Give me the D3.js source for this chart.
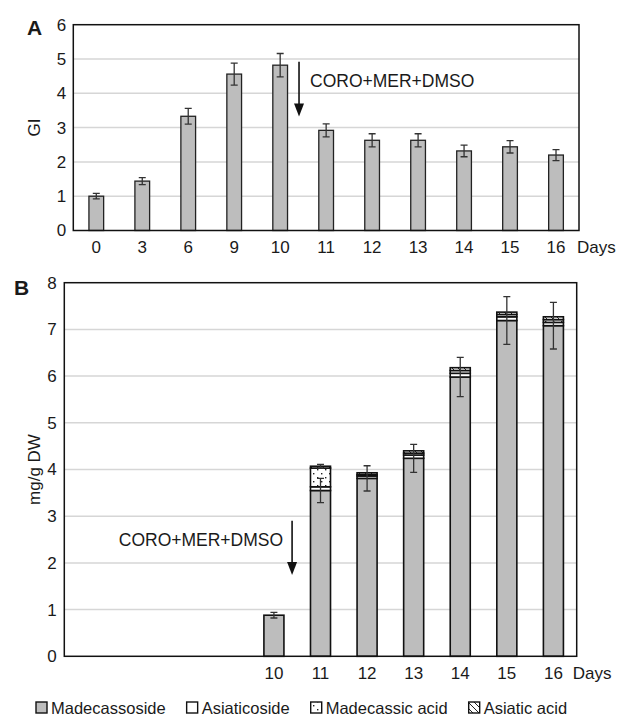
<!DOCTYPE html>
<html>
<head>
<meta charset="utf-8">
<script src="https://cdn.jsdelivr.net/npm/d3@7"></script>
<style>
  body { margin: 0; background: #fff; }
  text { font-family: "Liberation Sans", Arial, Helvetica, sans-serif; fill: #1a1a1a; }
</style>
</head>
<body>
<svg id="chart" width="620" height="716"></svg>
<script>
// Panel A: growth index per day
const days = ["0", "3", "6", "9", "10", "11", "12", "13", "14", "15", "16"];
const giValues = [1.0, 1.44, 3.33, 4.56, 4.82, 2.92, 2.63, 2.63, 2.32, 2.44, 2.2];
const giErrors = [0.08, 0.1, 0.23, 0.32, 0.34, 0.19, 0.19, 0.19, 0.17, 0.18, 0.16];
const giTicks = [0, 1, 2, 3, 4, 5, 6];

// Panel B: triterpenes (mg/g DW), stacked
const daysB = ["10", "11", "12", "13", "14", "15", "16"];
const madecassoside = [0.88, 3.55, 3.81, 4.24, 5.98, 7.19, 7.08];
const madecassosideErr = [0.06, 0.26, 0.27, 0.3, 0.42, 0.51, 0.5];
const asiaticoside = [0, 0.08, 0.05, 0.07, 0.08, 0.08, 0.07];
const madecassicAcid = [0, 0.4, 0.03, 0.04, 0.06, 0.05, 0.06];
const asiaticAcid = [0, 0.04, 0.04, 0.05, 0.06, 0.05, 0.06];
const totalErr = [0, 0.04, 0, 0, 0, 0, 0];
const mgTicks = [0, 1, 2, 3, 4, 5, 6, 7, 8];

const seriesNames = ["Madecassoside", "Asiaticoside", "Madecassic acid", "Asiatic acid"];
const treatmentLabel = "CORO+MER+DMSO";

const svg = d3.select('#chart');
const defs = svg.append('defs');

// fills for the four compounds
const dots = defs.append('pattern').attr('id', 'dots')
  .attr('patternUnits', 'userSpaceOnUse').attr('width', 8).attr('height', 8);
dots.append('rect').attr('width', 8).attr('height', 8).attr('fill', '#fff');
dots.append('rect').attr('x', 1).attr('y', 1).attr('width', 1.4).attr('height', 1.4).attr('fill', '#222');
dots.append('rect').attr('x', 5).attr('y', 5).attr('width', 1.4).attr('height', 1.4).attr('fill', '#222');

const hatch = defs.append('pattern').attr('id', 'hatch')
  .attr('patternUnits', 'userSpaceOnUse').attr('width', 6).attr('height', 6);
hatch.append('rect').attr('width', 6).attr('height', 6).attr('fill', '#fff');
hatch.append('path').attr('d', 'M0,0L6,6M-1,5L1,7M5,-1L7,1')
  .attr('stroke', '#222').attr('stroke-width', 1);

const fills = ['#bdbdbd', '#ffffff', 'url(#dots)', 'url(#hatch)'];

function errorBar(g, x, yLo, yHi) {
  const cap = 3.5;
  g.append('path')
    .attr('d', `M${x},${yLo}V${yHi}M${x - cap},${yLo}H${x + cap}M${x - cap},${yHi}H${x + cap}`)
    .attr('stroke', '#333').attr('stroke-width', 1.3).attr('fill', 'none');
}

function drawFrame(g, y, ticks, left, right, tickPadding) {
  // gridlines
  g.append('g').selectAll('line')
    .data(ticks.slice(1, -1))
    .join('line')
    .attr('x1', left).attr('x2', right)
    .attr('y1', (d) => y(d)).attr('y2', (d) => y(d))
    .attr('stroke', '#d6d6d6').attr('stroke-width', 1.5);

  const yaxis = d3.axisLeft(y).tickValues(ticks).tickFormat(d3.format('d'))
    .tickSize(0).tickPadding(tickPadding);
  const gy = g.append('g').attr('transform', `translate(${left},0)`).call(yaxis);
  gy.select('.domain').remove();
  gy.selectAll('text').style('font-size', '17px').attr('fill', '#1a1a1a');
}

function drawBox(g, left, right, top, bottom) {
  g.append('rect')
    .attr('x', left).attr('y', top)
    .attr('width', right - left).attr('height', bottom - top)
    .attr('fill', 'none').attr('stroke', '#111').attr('stroke-width', 1.5);
}

function drawArrow(g, x, y1, y2) {
  const hw = 5, hh = 13;
  g.append('line').attr('x1', x).attr('x2', x).attr('y1', y1).attr('y2', y2 - hh + 1)
    .attr('stroke', '#111').attr('stroke-width', 1.6);
  g.append('path').attr('d', `M${x - hw},${y2 - hh}L${x + hw},${y2 - hh}L${x},${y2}Z`).attr('fill', '#111');
}

/////////////////////////
// Panel A
{
  const left = 73.3, right = 579, top = 24.7, bottom = 230.5;
  const g = svg.append('g');

  const x = d3.scaleBand().domain(days).range([left, right]).paddingInner(0.68).paddingOuter(0.34);
  const y = d3.scaleLinear().domain([0, 6]).range([bottom, top]);

  drawFrame(g, y, giTicks, left, right, 7);

  const rows = days.map((d, i) => ({day: d, v: giValues[i], e: giErrors[i]}));

  g.append('g').selectAll('rect')
    .data(rows)
    .join('rect')
    .attr('x', (d) => x(d.day))
    .attr('y', (d) => y(d.v))
    .attr('width', x.bandwidth())
    .attr('height', (d) => y(0) - y(d.v))
    .attr('fill', '#bdbdbd').attr('stroke', '#222').attr('stroke-width', 1.3);

  rows.forEach((d) => errorBar(g, x(d.day) + x.bandwidth() / 2, y(d.v - d.e), y(d.v + d.e)));

  drawBox(g, left, right, top, bottom);

  const xaxis = d3.axisBottom(x).tickSize(0).tickPadding(10);
  const gx = g.append('g').attr('transform', `translate(0,${bottom})`).call(xaxis);
  gx.select('.domain').remove();
  gx.selectAll('text').style('font-size', '17px').attr('fill', '#1a1a1a');

  g.append('text').attr('x', 577).attr('y', 252.7).style('font-size', '17px').text('Days');

  g.append('text').attr('transform', `translate(40,${(top + bottom) / 2}) rotate(-90)`)
    .attr('text-anchor', 'middle').style('font-size', '17px').text('GI');

  g.append('text').attr('x', 27).attr('y', 34.5)
    .style('font-size', '21px').style('font-weight', 'bold').text('A');

  // treatment arrow between day 10 and 11
  const step = x.step();
  const ax = x('10') + x.bandwidth() / 2 + step * 0.41;
  drawArrow(g, ax, y(4.92), y(3.32));
  g.append('text').attr('x', ax + 11).attr('y', y(4.37)).attr('dy', '0.35em')
    .style('font-size', '17.5px').text(treatmentLabel);
}

/////////////////////////
// Panel B
{
  const left = 64.3, right = 576.7, top = 282.7, bottom = 656.3;
  const g = svg.append('g');

  const x = d3.scaleBand().domain(days).range([left, right]).paddingInner(0.57).paddingOuter(0.285);
  const y = d3.scaleLinear().domain([0, 8]).range([bottom, top]);

  drawFrame(g, y, mgTicks, left, right, 7.5);

  const rows = daysB.map((d, i) => ({
    day: d,
    Madecassoside: madecassoside[i],
    Asiaticoside: asiaticoside[i],
    'Madecassic acid': madecassicAcid[i],
    'Asiatic acid': asiaticAcid[i],
    err: madecassosideErr[i],
    topErr: totalErr[i]
  }));

  const stacked = d3.stack().keys(seriesNames)(rows);

  g.append('g').selectAll('g')
    .data(stacked)
    .join('g')
    .attr('fill', (d, i) => fills[i])
    .selectAll('rect')
    .data((d) => d.filter((s) => s[1] - s[0] > 0))
    .join('rect')
    .attr('x', (d) => x(d.data.day))
    .attr('y', (d) => y(d[1]))
    .attr('width', x.bandwidth())
    .attr('height', (d) => y(d[0]) - y(d[1]))
    .attr('stroke', '#111').attr('stroke-width', 1.6);

  rows.forEach((d) => {
    const cx = x(d.day) + x.bandwidth() / 2;
    errorBar(g, cx, y(d.Madecassoside - d.err), y(d.Madecassoside + d.err));
    if (d.topErr > 0) {
      const tot = seriesNames.reduce((s, k) => s + d[k], 0);
      errorBar(g, cx, y(tot - d.topErr), y(tot + d.topErr));
    }
  });

  drawBox(g, left, right, top, bottom);

  const xaxis = d3.axisBottom(x).tickValues(daysB).tickSize(0).tickPadding(10.5);
  const gx = g.append('g').attr('transform', `translate(0,${bottom})`).call(xaxis);
  gx.select('.domain').remove();
  gx.selectAll('text').style('font-size', '17px').attr('fill', '#1a1a1a');

  g.append('text').attr('x', 572.7).attr('y', 679).style('font-size', '17px').text('Days');

  g.append('text').attr('transform', `translate(40,${(top + bottom) / 2}) rotate(-90)`)
    .attr('text-anchor', 'middle').style('font-size', '17px').text('mg/g DW');

  g.append('text').attr('x', 14).attr('y', 294.5)
    .style('font-size', '21px').style('font-weight', 'bold').text('B');

  const step = x.step();
  const ax = x('10') + x.bandwidth() / 2 + step * 0.39;
  drawArrow(g, ax, y(2.9), y(1.74));
  g.append('text').attr('x', ax - 9).attr('y', y(2.49)).attr('dy', '0.35em')
    .attr('text-anchor', 'end').style('font-size', '17.5px').text(treatmentLabel);

  // legend
  const lg = g.append('g');
  let lx = 36;
  seriesNames.forEach((name, i) => {
    lg.append('rect').attr('x', lx).attr('y', 702).attr('width', 11).attr('height', 11)
      .attr('fill', fills[i]).attr('stroke', '#111').attr('stroke-width', 1.4);
    const t = lg.append('text').attr('x', lx + 15).attr('y', 713.5)
      .style('font-size', '16.5px').text(name);
    lx += 15 + t.node().getComputedTextLength() + 21;
  });
}
</script>
</body>
</html>
